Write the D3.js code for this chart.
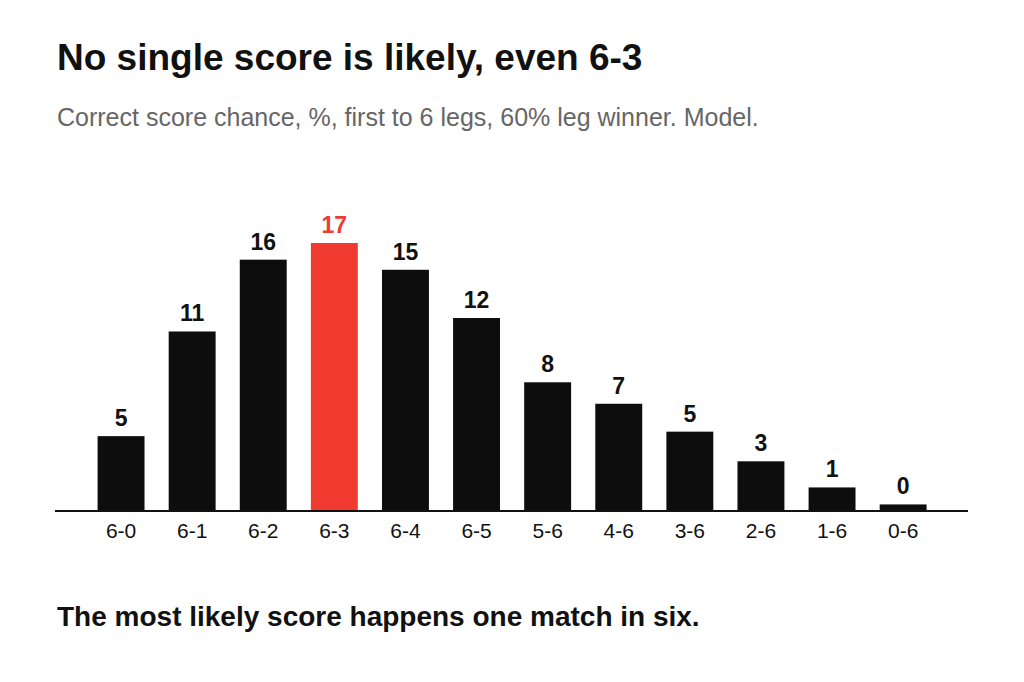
<!DOCTYPE html>
<html><head><meta charset="utf-8">
<script src="https://cdn.jsdelivr.net/npm/d3@7"></script>
<style>body{margin:0;background:#fff;font-family:"Liberation Sans",Arial,sans-serif}</style>
</head><body>
<svg id="c" width="1024" height="682"></svg>
<script>
const categories = ["6-0","6-1","6-2","6-3","6-4","6-5","5-6","4-6","3-6","2-6","1-6","0-6"];
const values = [4.67,11.2,15.68,16.72,15.05,12.04,8.03,6.69,4.95,3.10,1.47,0.41];
const labels = ["5","11","16","17","15","12","8","7","5","3","1","0"];
const highlight = "6-3";

const svg = d3.select("#c");
svg.append("text").attr("x",57).attr("y",70).attr("font-size",37).attr("font-weight","bold").attr("fill","#111")
  .text("No single score is likely, even 6-3");
svg.append("text").attr("x",57).attr("y",126).attr("font-size",25).attr("fill","#666")
  .text("Correct score chance, %, first to 6 legs, 60% leg winner. Model.");
svg.append("text").attr("x",57).attr("y",626).attr("font-size",28).attr("font-weight","bold").attr("fill","#111")
  .text("The most likely score happens one match in six.");

const base = 511;
const x = d3.scaleBand().domain(categories).range([85.5, 85.5+12*71.1]).paddingInner(0.34).paddingOuter(0.17);
const y = d3.scaleLinear().domain([0, 16.72]).range([base, 243]);

svg.selectAll("rect.bar").data(categories).join("rect")
  .attr("x", d=>x(d)).attr("width", x.bandwidth())
  .attr("y", (d,i)=>y(values[i])).attr("height",(d,i)=>base-y(values[i]))
  .attr("fill", d=>d===highlight?"#f23b30":"#0d0d0d");

svg.selectAll("text.v").data(categories).join("text")
  .attr("x", d=>x(d)+x.bandwidth()/2).attr("y",(d,i)=>y(values[i])-10)
  .attr("text-anchor","middle").attr("font-size",23).attr("font-weight","bold")
  .attr("fill", d=>d===highlight?"#f23b30":"#111").text((d,i)=>labels[i]);

const ax = svg.append("g").attr("transform",`translate(0,${base})`).call(d3.axisBottom(x).tickSize(0).tickPadding(12));
ax.select(".domain").remove();
ax.selectAll("text").attr("font-size",21).attr("fill","#111").attr("font-family","Liberation Sans, Arial, sans-serif");
svg.append("line").attr("x1",55).attr("x2",968).attr("y1",base).attr("y2",base).attr("stroke","#111").attr("stroke-width",2);
</script>
</body></html>
